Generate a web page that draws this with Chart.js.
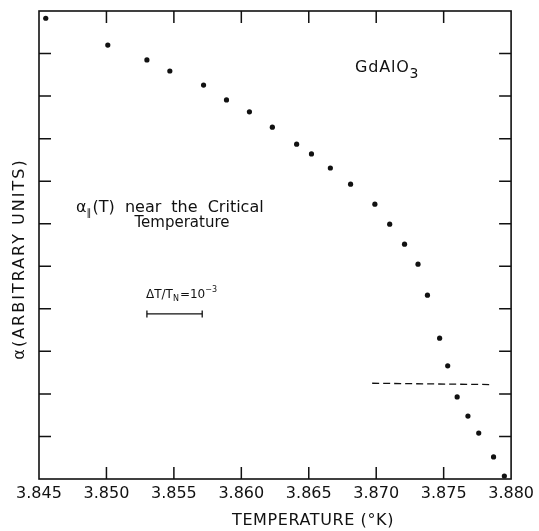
<!DOCTYPE html>
<html>
<head>
<meta charset="utf-8">
<script src="https://cdn.jsdelivr.net/npm/chart.js@4.4.1/dist/chart.umd.min.js"></script>
<style>
  html, body { margin: 0; padding: 0; background: #fff; }
  #chart { display: block; }
</style>
</head>
<body>
<canvas id="chart" width="539" height="531"></canvas>
<script>
// measured points, alpha(T) in arbitrary units
const temps = [3.8455, 3.8501, 3.8530, 3.8547, 3.8572, 3.8589, 3.8606, 3.8623,
               3.8641, 3.8652, 3.8666, 3.8681, 3.8699, 3.8710, 3.8721, 3.8731,
               3.8738, 3.8747, 3.8753, 3.8760, 3.8768, 3.8776, 3.8787, 3.8795];
const alphas = [10.83, 10.20, 9.85, 9.59, 9.26, 8.91, 8.63, 8.27,
                7.87, 7.64, 7.31, 6.93, 6.46, 5.99, 5.52, 5.05,
                4.32, 3.31, 2.66, 1.93, 1.48, 1.08, 0.52, 0.07];

// dashed reference line
const dashT = [3.8697, 3.8784];
const dashA = [2.25, 2.22];

// scale bar for dT/T_N = 1e-3
const barT = [3.8530, 3.8571];
const barA = [3.88, 3.88];

const xTicks = [3.845, 3.850, 3.855, 3.860, 3.865, 3.870, 3.875, 3.880];
const yTicks = [0, 1, 2, 3, 4, 5, 6, 7, 8, 9, 10, 11];

const ink = '#111';
const face = '"DejaVu Sans", sans-serif';

// draws a row of text pieces (sub/superscripts via dy)
function drawRun(ctx, x, y, parts, opts) {
    opts = opts || {};
    let cx = x;
    parts.forEach(p => {
        ctx.font = p.size + 'px ' + face;
        ctx.letterSpacing = (p.ls || 0) + 'px';
        ctx.wordSpacing = (opts.ws || 0) + 'px';
        ctx.fillText(p.t, cx, y + (p.dy || 0));
        cx += ctx.measureText(p.t).width + (p.gap || 0);
    });
}

const framePlugin = {
    id: 'frame',
    afterDraw(chart) {
        const ctx = chart.ctx;
        const a = chart.chartArea;
        const xs = chart.scales.x;
        const ys = chart.scales.y;
        ctx.save();
        ctx.strokeStyle = ink;
        ctx.fillStyle = ink;
        ctx.lineWidth = 1.6;
        ctx.strokeRect(a.left, a.top, a.right - a.left, a.bottom - a.top);

        // inward tick marks
        const tl = 12;
        ctx.lineWidth = 1.5;
        ctx.beginPath();
        xTicks.slice(1, -1).forEach(v => {
            const px = xs.getPixelForValue(v);
            ctx.moveTo(px, a.top); ctx.lineTo(px, a.top + tl);
            ctx.moveTo(px, a.bottom); ctx.lineTo(px, a.bottom - tl);
        });
        yTicks.slice(1, -1).forEach(v => {
            const py = ys.getPixelForValue(v);
            ctx.moveTo(a.left, py); ctx.lineTo(a.left + tl, py);
            ctx.moveTo(a.right, py); ctx.lineTo(a.right - tl, py);
        });
        ctx.stroke();

        ctx.textBaseline = 'alphabetic';
        ctx.textAlign = 'left';

        // GdAlO3
        drawRun(ctx, 355, 72, [
            {t: 'GdAlO', size: 16, ls: 0.8},
            {t: '3', size: 14, dy: 6}
        ]);

        // alpha_par(T) near the Critical / Temperature
        drawRun(ctx, 76, 212, [
            {t: 'α', size: 16},
            {t: '∥', size: 10, dy: 4, gap: 1},
            {t: '(T) near the Critical', size: 16}
        ], {ws: 5});
        ctx.textAlign = 'center';
        ctx.font = '15px ' + face;
        ctx.letterSpacing = '0px';
        ctx.wordSpacing = '0px';
        ctx.fillText('Temperature', 182, 227);
        ctx.textAlign = 'left';

        // dT/T_N = 10^-3
        drawRun(ctx, 146, 298, [
            {t: 'ΔT/T', size: 12},
            {t: 'N', size: 8, dy: 3, gap: 1},
            {t: '=10', size: 12},
            {t: '−3', size: 8, dy: -6}
        ]);

        // axis titles
        ctx.textAlign = 'center';
        ctx.textBaseline = 'middle';
        ctx.font = '16px ' + face;
        ctx.letterSpacing = '0.6px';
        ctx.fillText('TEMPERATURE (°K)', 313, 521);

        ctx.translate(20, 259);
        ctx.rotate(-Math.PI / 2);
        ctx.letterSpacing = '2px';
        ctx.fillText('α(ARBITRARY UNITS)', 0, 0);
        ctx.restore();
    }
};

new Chart(document.getElementById('chart'), {
    type: 'scatter',
    data: {
        datasets: [{
            data: temps.map((t, i) => ({x: t, y: alphas[i]})),
            pointRadius: 2.6,
            pointBackgroundColor: ink,
            pointBorderWidth: 0,
            showLine: false
        }, {
            type: 'line',
            data: dashT.map((t, i) => ({x: t, y: dashA[i]})),
            borderColor: ink,
            borderWidth: 1.3,
            borderDash: [7, 4],
            pointRadius: 0,
            showLine: true
        }, {
            type: 'line',
            data: barT.map((t, i) => ({x: t, y: barA[i]})),
            borderColor: ink,
            borderWidth: 1.3,
            pointStyle: 'line',
            rotation: 90,
            pointRadius: 3.5,
            pointBorderColor: ink,
            pointBorderWidth: 1.3,
            showLine: true
        }]
    },
    options: {
        responsive: false,
        animation: false,
        devicePixelRatio: 1,
        layout: {
            padding: {left: 0, right: 24, top: 11, bottom: 0}
        },
        plugins: {
            legend: {display: false},
            tooltip: {enabled: false}
        },
        scales: {
            x: {
                type: 'linear',
                min: 3.845,
                max: 3.880,
                afterBuildTicks: scale => {
                    scale.ticks = xTicks.map(v => ({value: v}));
                },
                afterFit: scale => { scale.height = 52; },
                grid: {display: false, drawTicks: false},
                border: {display: false},
                ticks: {
                    padding: 5,
                    color: ink,
                    font: {family: face, size: 16},
                    callback: v => v.toFixed(3)
                }
            },
            y: {
                type: 'linear',
                min: 0,
                max: 11,
                afterBuildTicks: scale => {
                    scale.ticks = yTicks.map(v => ({value: v}));
                },
                afterFit: scale => { scale.width = 39; },
                grid: {display: false, drawTicks: false},
                border: {display: false},
                ticks: {display: false}
            }
        }
    },
    plugins: [framePlugin]
});
</script>
</body>
</html>
